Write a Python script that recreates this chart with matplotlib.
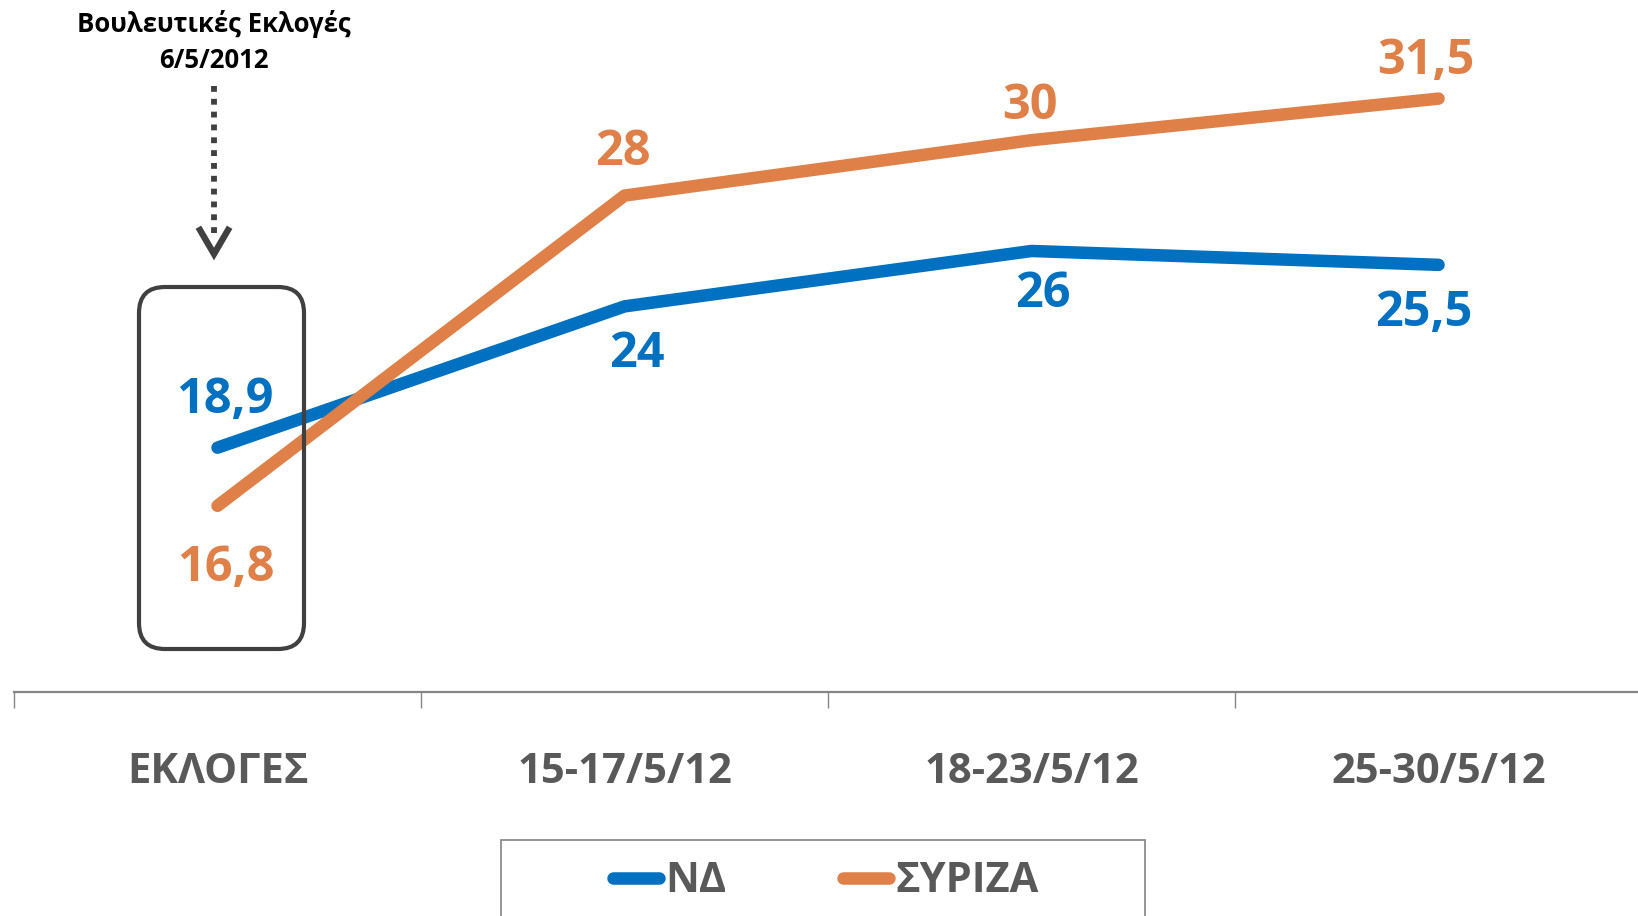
import matplotlib
matplotlib.use("Agg")
import matplotlib.pyplot as plt
from matplotlib.patches import FancyBboxPatch, Rectangle
from matplotlib.lines import Line2D

plt.rcParams['font.family'] = ['Open Sans', 'DejaVu Sans']
plt.rcParams['font.weight'] = 'bold'

# data
categories = ['ΕΚΛΟΓΕΣ', '15-17/5/12', '18-23/5/12', '25-30/5/12']
nd_values = [18.9, 24, 26, 25.5]
syriza_values = [16.8, 28, 30, 31.5]
series_names = ['ΝΔ', 'ΣΥΡΙΖΑ']
note_text = 'Βουλευτικές Εκλογές\n6/5/2012'

BLUE = '#0070C0'
ORANGE = '#DF8048'
GREY_TEXT = '#595959'
DARK = '#404040'

W, H = 1638, 916


def fx(px):
    return px / W


def fy(py):
    return 1 - py / H


def fmt(v):
    if float(v).is_integer():
        return str(int(v))
    return str(v).replace('.', ',')


fig = plt.figure(figsize=(W / 100, H / 100), dpi=100)
ax = fig.add_axes([fx(14), fy(692), 1 - fx(14), 692 / H])

x = list(range(len(categories)))
ax.plot(x, nd_values, color=BLUE, lw=9, solid_capstyle='round', solid_joinstyle='round', zorder=3)
ax.plot(x, syriza_values, color=ORANGE, lw=9, solid_capstyle='round', solid_joinstyle='round', zorder=3)

# value labels (offsets in points)
nd_offsets = [(5, 34), (9, -35), (8, -31), (-11, -35)]
syriza_offsets = [(6, -45), (-1, 31), (-1, 24), (-9, 27)]
for xi, v, off in zip(x, nd_values, nd_offsets):
    ax.annotate(fmt(v), (xi, v), xytext=off, textcoords='offset points',
                ha='center', va='center', fontsize=35, fontweight='bold', color=BLUE)
for xi, v, off in zip(x, syriza_values, syriza_offsets):
    ax.annotate(fmt(v), (xi, v), xytext=off, textcoords='offset points',
                ha='center', va='center', fontsize=35, fontweight='bold', color=ORANGE)

ax.set_xlim(-0.5, 3.49)
ax.set_ylim(10.08, 35.06)
for s in ['top', 'right', 'left']:
    ax.spines[s].set_visible(False)
ax.spines['bottom'].set_color('#868686')
ax.spines['bottom'].set_linewidth(1.6)
ax.set_yticks([])

ax.set_xticks([-0.5, 0.5, 1.5, 2.5])
ax.set_xticklabels([])
ax.tick_params(axis='x', which='major', direction='out', length=11.5, width=1, color='#868686')
ax.set_xticks(x, minor=True)
ax.set_xticklabels(categories, minor=True)
ax.tick_params(axis='x', which='minor', length=0, pad=43, labelsize=30, labelcolor=GREY_TEXT)
for t in ax.get_xticklabels(minor=True):
    t.set_fontweight('bold')

# rounded box around the election values
r = 0.26
box = FancyBboxPatch((1.39 + r, 2.67 + r), 1.65 - 2 * r, 3.62 - 2 * r,
                     boxstyle=f"round,pad={r},rounding_size={r}",
                     transform=fig.dpi_scale_trans, fill=False, ec=DARK, lw=3, zorder=5)
fig.add_artist(box)

# note and dotted arrow
fig.text(fx(214), fy(42), note_text, ha='center', va='center', fontsize=18.5,
         fontweight='bold', color='black', linespacing=1.45)
fig.add_artist(Line2D([fx(214), fx(214)], [fy(86), fy(240)], transform=fig.transFigure,
                      color=DARK, lw=4.2, linestyle=(0, (1, 1.2)), dash_capstyle='butt'))
fig.add_artist(Line2D([fx(200), fx(214), fx(228)], [fy(230), fy(254), fy(230)],
                      transform=fig.transFigure, color=DARK, lw=4.6, solid_joinstyle='miter'))

# legend
handles = [Line2D([], [], color=BLUE, lw=9, solid_capstyle='round'),
           Line2D([], [], color=ORANGE, lw=9, solid_capstyle='round')]
leg = ax.legend(handles, series_names, loc='center', bbox_to_anchor=(fx(826), fy(882)),
                bbox_transform=fig.transFigure, ncol=2, frameon=False,
                prop={'size': 30, 'weight': 'bold'}, labelcolor=GREY_TEXT,
                handlelength=1.1, handletextpad=0.15, columnspacing=2.8)
fig.add_artist(Rectangle((fx(501), fy(960)), fx(644), 120 / H, transform=fig.transFigure,
                         fill=False, ec='#8c8c8c', lw=1.3))

fig.savefig('out.png', dpi=100)
